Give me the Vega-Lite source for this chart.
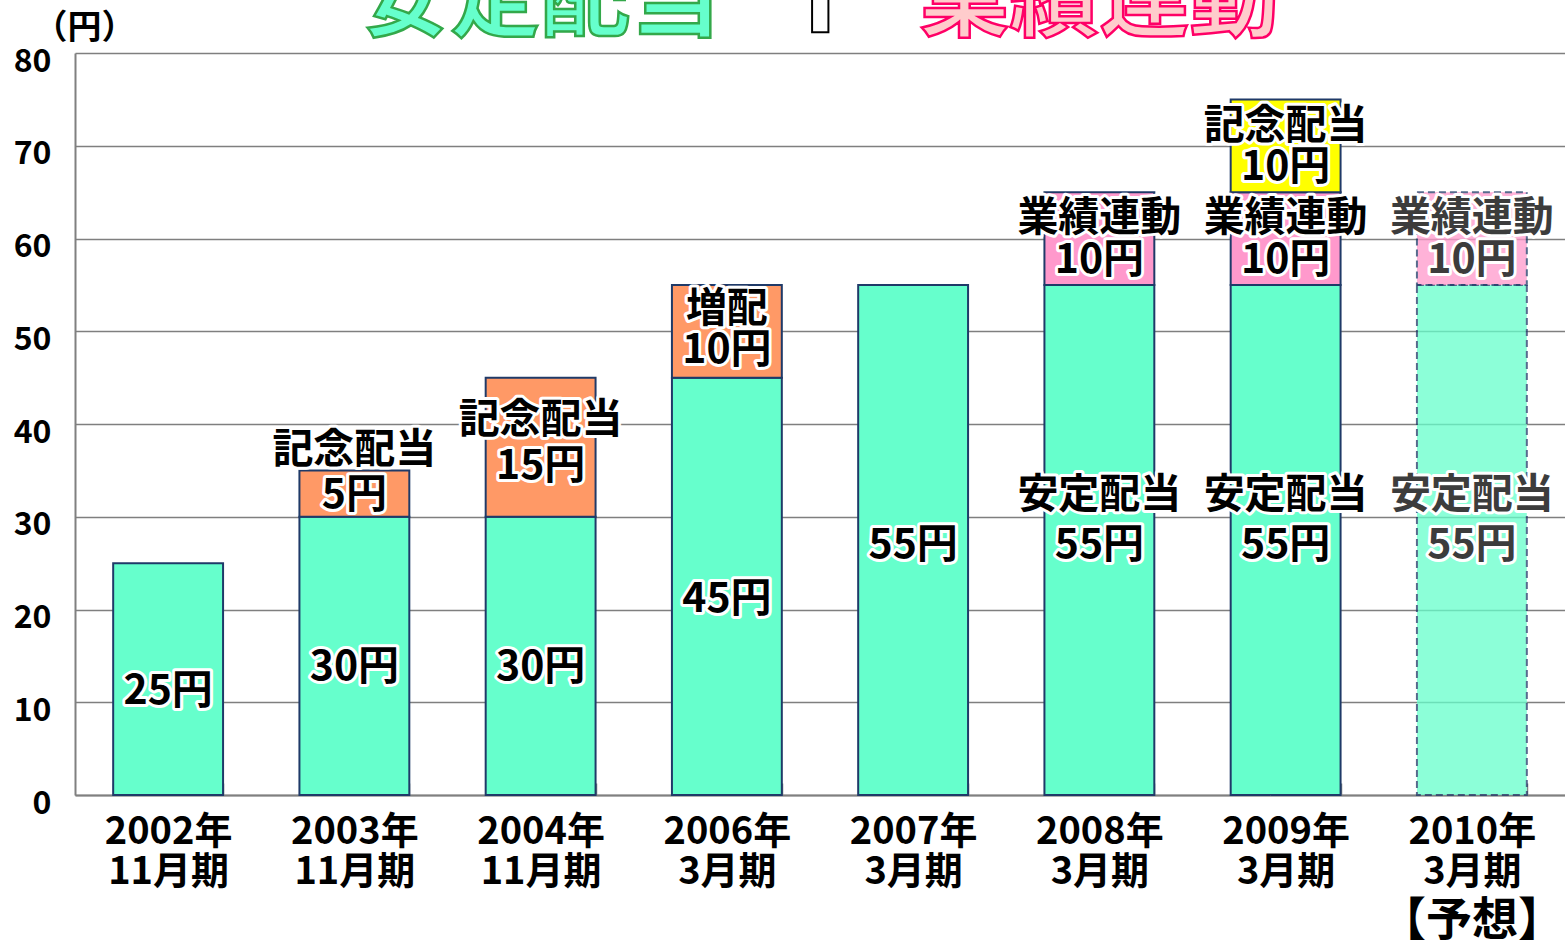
{
  "$schema": "https://vega.github.io/schema/vega-lite/v6.json",
  "width": 1490,
  "height": 742,
  "autosize": "none",
  "padding": {"left": 75, "top": 53, "right": 0, "bottom": 145},
  "config": {"view": {"stroke": null}, "font": "Noto Sans CJK JP"},
  "datasets": {
    "bars": [
      {"period": "2002年|11月期", "kind": "stable", "start": 0, "end": 25, "forecast": "no"},
      {"period": "2003年|11月期", "kind": "stable", "start": 0, "end": 30, "forecast": "no"},
      {"period": "2003年|11月期", "kind": "extra", "start": 30, "end": 35, "forecast": "no"},
      {"period": "2004年|11月期", "kind": "stable", "start": 0, "end": 30, "forecast": "no"},
      {"period": "2004年|11月期", "kind": "extra", "start": 30, "end": 45, "forecast": "no"},
      {"period": "2006年|3月期", "kind": "stable", "start": 0, "end": 45, "forecast": "no"},
      {"period": "2006年|3月期", "kind": "extra", "start": 45, "end": 55, "forecast": "no"},
      {"period": "2007年|3月期", "kind": "stable", "start": 0, "end": 55, "forecast": "no"},
      {"period": "2008年|3月期", "kind": "stable", "start": 0, "end": 55, "forecast": "no"},
      {"period": "2008年|3月期", "kind": "perf", "start": 55, "end": 65, "forecast": "no"},
      {"period": "2009年|3月期", "kind": "stable", "start": 0, "end": 55, "forecast": "no"},
      {"period": "2009年|3月期", "kind": "perf", "start": 55, "end": 65, "forecast": "no"},
      {"period": "2009年|3月期", "kind": "memorial", "start": 65, "end": 75, "forecast": "no"},
      {"period": "2010年|3月期", "kind": "stable", "start": 0, "end": 55, "forecast": "yes"},
      {"period": "2010年|3月期", "kind": "perf", "start": 55, "end": 65, "forecast": "yes"}
    ],
    "labels": [
      {"period": "2002年|11月期", "text": "25円", "y": 11.1, "forecast": "no"},
      {"period": "2003年|11月期", "text": "30円", "y": 13.7, "forecast": "no"},
      {"period": "2003年|11月期", "text": "記念配当", "y": 37.1, "forecast": "no"},
      {"period": "2003年|11月期", "text": "5円", "y": 32.2, "forecast": "no"},
      {"period": "2004年|11月期", "text": "30円", "y": 13.7, "forecast": "no"},
      {"period": "2004年|11月期", "text": "記念配当", "y": 40.3, "forecast": "no"},
      {"period": "2004年|11月期", "text": "15円", "y": 35.4, "forecast": "no"},
      {"period": "2006年|3月期", "text": "45円", "y": 21.0, "forecast": "no"},
      {"period": "2006年|3月期", "text": "増配", "y": 52.3, "forecast": "no"},
      {"period": "2006年|3月期", "text": "10円", "y": 47.9, "forecast": "no"},
      {"period": "2007年|3月期", "text": "55円", "y": 26.8, "forecast": "no"},
      {"period": "2008年|3月期", "text": "安定配当", "y": 32.2, "forecast": "no"},
      {"period": "2008年|3月期", "text": "55円", "y": 26.8, "forecast": "no"},
      {"period": "2008年|3月期", "text": "業績連動", "y": 62.1, "forecast": "no"},
      {"period": "2008年|3月期", "text": "10円", "y": 57.6, "forecast": "no"},
      {"period": "2009年|3月期", "text": "安定配当", "y": 32.2, "forecast": "no"},
      {"period": "2009年|3月期", "text": "55円", "y": 26.8, "forecast": "no"},
      {"period": "2009年|3月期", "text": "業績連動", "y": 62.1, "forecast": "no"},
      {"period": "2009年|3月期", "text": "10円", "y": 57.6, "forecast": "no"},
      {"period": "2009年|3月期", "text": "記念配当", "y": 72.0, "forecast": "no"},
      {"period": "2009年|3月期", "text": "10円", "y": 67.6, "forecast": "no"},
      {"period": "2010年|3月期", "text": "安定配当", "y": 32.2, "forecast": "yes"},
      {"period": "2010年|3月期", "text": "55円", "y": 26.8, "forecast": "yes"},
      {"period": "2010年|3月期", "text": "業績連動", "y": 62.1, "forecast": "yes"},
      {"period": "2010年|3月期", "text": "10円", "y": 57.6, "forecast": "yes"}
    ],
    "title": [
      {"period": "2004年|11月期", "text": "安定配当", "y": 82.6},
      {"period": "2006年|3月期", "text": "＋", "y": 81.8},
      {"period": "2008年|3月期", "text": "業績連動", "y": 82.6}
    ],
    "note": [
      {"period": "2010年|3月期", "text": "【予想】", "y": -13.6}
    ]
  },
  "layer": [
    {
      "data": {"name": "bars"},
      "mark": {"type": "bar", "stroke": "#1F3A68", "strokeWidth": 2},
      "encoding": {
        "x": {
          "field": "period", "type": "nominal", "sort": null,
          "scale": {"paddingInner": 0.41, "paddingOuter": 0.205},
          "axis": {
            "title": null,
            "labelAngle": 0,
            "labelExpr": "datum.value ? split(datum.value, '|') : ''",
            "labelFontSize": 38,
            "labelFontWeight": "bold",
            "labelColor": "#000000",
            "labelLineHeight": 40,
            "labelPadding": 30,
            "domainColor": "#808080",
            "domainWidth": 2,
            "ticks": true,
            "tickBand": "extent",
            "tickSize": -12,
            "tickColor": "#808080",
            "tickWidth": 1.5
          }
        },
        "y": {
          "field": "end", "type": "quantitative",
          "scale": {"domain": [0, 80], "nice": false},
          "axis": {
            "values": [0, 10, 20, 30, 40, 50, 60, 70, 80],
            "grid": true,
            "gridColor": "#7f7f7f",
            "gridWidth": 1.5,
            "domainColor": "#808080",
            "domainWidth": 2,
            "ticks": false,
            "labelFontSize": 32,
            "labelFontWeight": "bold",
            "labelColor": "#000000",
            "labelPadding": 24,
            "labelOffset": 8,
            "title": "（円）",
            "titleAngle": 0,
            "titleFontSize": 34,
            "titleFontWeight": "bold",
            "titleAlign": "left",
            "titleBaseline": "bottom",
            "titleX": -42,
            "titleY": -8
          }
        },
        "y2": {"field": "start"},
        "color": {
          "field": "kind", "type": "nominal",
          "scale": {"domain": ["stable", "extra", "perf", "memorial"], "range": ["#66FFCC", "#FF9966", "#FF99CC", "#FFFF00"]},
          "legend": null
        },
        "strokeDash": {
          "field": "forecast", "type": "nominal",
          "scale": {"domain": ["no", "yes"], "range": [[1, 0], [7, 4]]},
          "legend": null
        },
        "opacity": {
          "field": "forecast", "type": "nominal",
          "scale": {"domain": ["no", "yes"], "range": [1, 0.75]},
          "legend": null
        }
      }
    },
    {
      "data": {"name": "labels"},
      "mark": {"type": "text", "fontSize": 41, "fontWeight": "bold", "baseline": "middle", "align": "center", "stroke": "#ffffff", "strokeWidth": 6, "strokeJoin": "round", "fill": "#ffffff"},
      "encoding": {
        "x": {"field": "period", "type": "nominal", "sort": null},
        "y": {"field": "y", "type": "quantitative", "scale": {"domain": [0, 80], "nice": false}},
        "text": {"field": "text"}
      }
    },
    {
      "data": {"name": "labels"},
      "transform": [{"filter": "datum.forecast === 'no'"}],
      "mark": {"type": "text", "fontSize": 41, "fontWeight": "bold", "baseline": "middle", "align": "center", "fill": "#000000"},
      "encoding": {
        "x": {"field": "period", "type": "nominal", "sort": null},
        "y": {"field": "y", "type": "quantitative", "scale": {"domain": [0, 80], "nice": false}},
        "text": {"field": "text"}
      }
    },
    {
      "data": {"name": "labels"},
      "transform": [{"filter": "datum.forecast === 'yes'"}],
      "mark": {"type": "text", "fontSize": 41, "fontWeight": "bold", "baseline": "middle", "align": "center", "fill": "#3c3c3c"},
      "encoding": {
        "x": {"field": "period", "type": "nominal", "sort": null},
        "y": {"field": "y", "type": "quantitative", "scale": {"domain": [0, 80], "nice": false}},
        "text": {"field": "text"}
      }
    },
    {
      "data": {"name": "title"},
      "transform": [{"filter": "datum.text === '安定配当'"}],
      "mark": {"type": "text", "fontSize": 90, "fontWeight": "bold", "baseline": "alphabetic", "align": "center", "fill": "#66FFCC", "stroke": "#33A84A", "strokeWidth": 2.5},
      "encoding": {
        "x": {"field": "period", "type": "nominal", "sort": null},
        "y": {"field": "y", "type": "quantitative", "scale": {"domain": [0, 80], "nice": false}},
        "text": {"field": "text"}
      }
    },
    {
      "data": {"name": "title"},
      "transform": [{"filter": "datum.text === '業績連動'"}],
      "mark": {"type": "text", "fontSize": 90, "fontWeight": "bold", "baseline": "alphabetic", "align": "center", "fill": "#FFCCCC", "stroke": "#FF0066", "strokeWidth": 2.5},
      "encoding": {
        "x": {"field": "period", "type": "nominal", "sort": null},
        "y": {"field": "y", "type": "quantitative", "scale": {"domain": [0, 80], "nice": false}},
        "text": {"field": "text"}
      }
    },
    {
      "data": {"name": "title"},
      "transform": [{"filter": "datum.text === '＋'"}],
      "mark": {"type": "text", "fontSize": 160, "fontWeight": "bold", "baseline": "alphabetic", "align": "center", "fill": "#ffffff", "stroke": "#000000", "strokeWidth": 2},
      "encoding": {
        "x": {"field": "period", "type": "nominal", "sort": null, "bandPosition": 1.35},
        "y": {"field": "y", "type": "quantitative", "scale": {"domain": [0, 80], "nice": false}},
        "text": {"field": "text"}
      }
    },
    {
      "data": {"name": "note"},
      "mark": {"type": "text", "fontSize": 46, "fontWeight": "bold", "baseline": "middle", "align": "center", "fill": "#000000"},
      "encoding": {
        "x": {"field": "period", "type": "nominal", "sort": null},
        "y": {"field": "y", "type": "quantitative", "scale": {"domain": [0, 80], "nice": false}},
        "text": {"field": "text"}
      }
    }
  ]
}
